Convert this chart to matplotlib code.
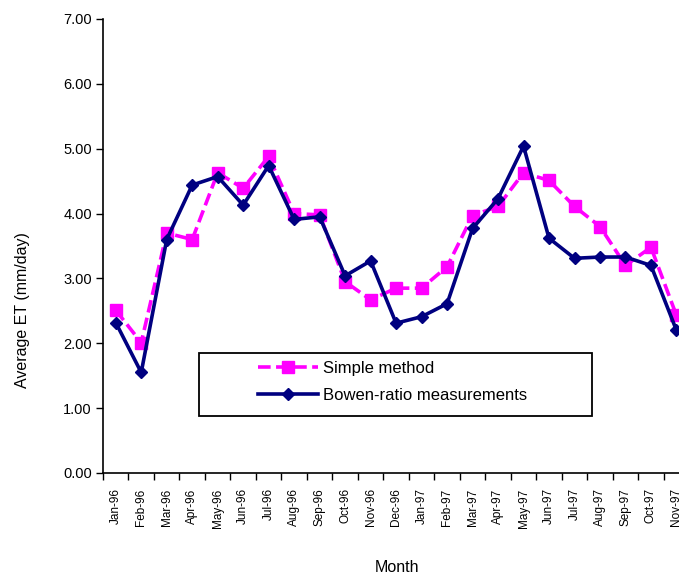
import matplotlib
matplotlib.use("Agg")
import matplotlib.pyplot as plt
from matplotlib.ticker import FixedLocator, NullFormatter
from matplotlib.patches import Rectangle

months = ["Jan-96", "Feb-96", "Mar-96", "Apr-96", "May-96", "Jun-96", "Jul-96",
          "Aug-96", "Sep-96", "Oct-96", "Nov-96", "Dec-96", "Jan-97", "Feb-97",
          "Mar-97", "Apr-97", "May-97", "Jun-97", "Jul-97", "Aug-97", "Sep-97",
          "Oct-97", "Nov-97"]
simple_method = [2.51, 2.01, 3.70, 3.60, 4.63, 4.39, 4.88, 4.00, 3.98, 2.95, 2.67,
                 2.85, 2.85, 3.18, 3.97, 4.11, 4.63, 4.51, 4.11, 3.80, 3.20, 3.48, 2.43]
bowen_ratio = [2.32, 1.55, 3.60, 4.44, 4.57, 4.13, 4.74, 3.91, 3.95, 3.04, 3.27,
               2.31, 2.41, 2.61, 3.77, 4.23, 5.04, 3.62, 3.31, 3.33, 3.33, 3.20, 2.20]
y_ticks = [0, 1, 2, 3, 4, 5, 6, 7]

plt.rcParams['font.family'] = ['Liberation Sans', 'DejaVu Sans']

W, H = 679, 578
fig = plt.figure(figsize=(W / 100, H / 100), dpi=100)
ax = fig.add_axes([103 / W, 1 - 473 / H, (W - 103) / W, (473 - 19) / H])

x = list(range(len(months)))
ax.plot(x, simple_method, color='#FF00FF', linestyle=(0, (3.5, 1.5)), linewidth=2.6,
        marker='s', markersize=9, markerfacecolor='#FF00FF', markeredgecolor='#FF00FF',
        label='Simple method', zorder=2)
ax.plot(x, bowen_ratio, color='#000080', linestyle='-', linewidth=2.6,
        marker='D', markersize=6.5, markerfacecolor='#000080', markeredgecolor='#000080',
        label='Bowen-ratio measurements', zorder=3)

ax.set_xlim(-0.5, 22.1)
ax.set_ylim(0, 7)

ax.set_yticks(y_ticks)
ax.set_yticklabels([f"{v:.2f}" for v in y_ticks], fontsize=10.5)
ax.tick_params(axis='y', direction='out', length=5, width=1, pad=3)

ax.set_xticks(x)
ax.set_xticklabels(months, rotation=90, fontsize=8.5)
ax.xaxis.set_minor_locator(FixedLocator([i - 0.5 for i in range(len(months) + 1)]))
ax.xaxis.set_minor_formatter(NullFormatter())
ax.tick_params(axis='x', which='major', length=0, pad=11)
ax.tick_params(axis='x', which='minor', direction='out', length=5, width=1)

for s in ['top', 'right']:
    ax.spines[s].set_visible(False)
for s in ['left', 'bottom']:
    ax.spines[s].set_linewidth(1.2)

fig.text(397 / W, 1 - 568 / H, "Month", ha='center', va='center', fontsize=11.5)
fig.text(22 / W, 1 - 310 / H, "Average ET (mm/day)", ha='center', va='center',
         rotation=90, fontsize=11.5)

# legend frame (wide box as in reference)
fig.patches.append(Rectangle((199 / W, 1 - 416 / H), (592 - 199) / W, (416 - 353) / H,
                             transform=fig.transFigure, fill=True, facecolor='white',
                             edgecolor='black', linewidth=1.3, zorder=4))
leg = fig.legend(loc='upper left', bbox_to_anchor=(258 / W, 1 - 361 / H),
                 fontsize=12, frameon=False, borderpad=0,
                 handlelength=3.6, handletextpad=0.3, labelspacing=0.7,
                 borderaxespad=0)
leg.set_zorder(5)

fig.savefig("out.png", dpi=100)
